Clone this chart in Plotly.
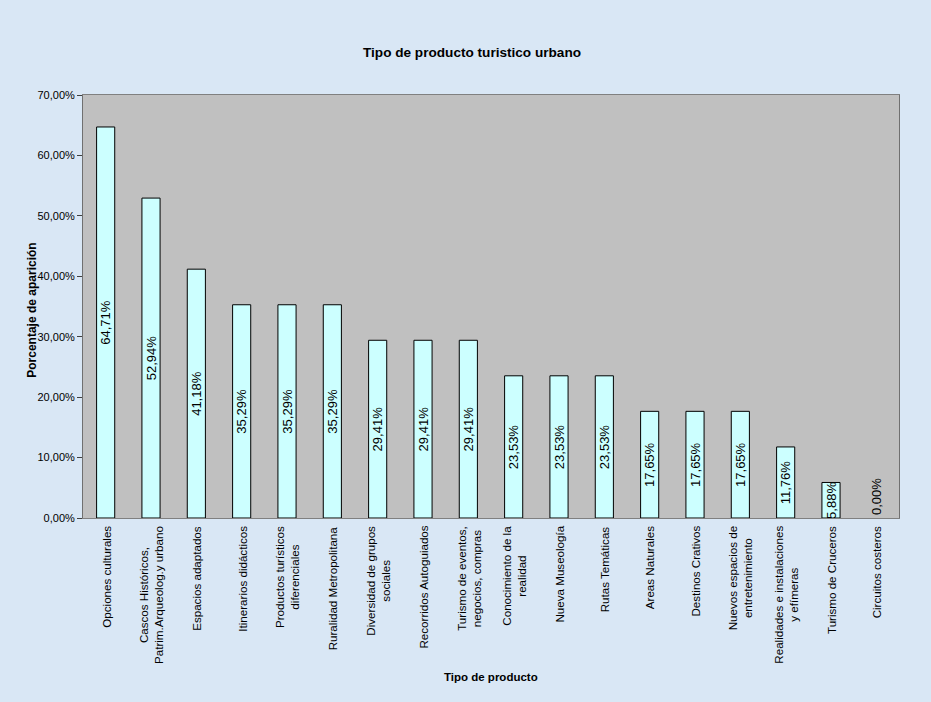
import plotly.graph_objects as go

categories = [
    "Opciones culturales",
    "Cascos Históricos,<br>Patrim.Arqueolog.y urbano",
    "Espacios adaptados",
    "Itinerarios didácticos",
    "Productos turísticos<br>diferenciales",
    "Ruralidad Metropolitana",
    "Diversidad de grupos<br>sociales",
    "Recorridos Autoguiados",
    "Turismo de eventos,<br>negocios, compras",
    "Conocimiento de la<br>realidad",
    "Nueva Museología",
    "Rutas Temáticas",
    "Areas Naturales",
    "Destinos Crativos",
    "Nuevos espacios de<br>entretenimiento",
    "Realidades e instalaciones<br>y efímeras",
    "Turismo de Cruceros",
    "Circuitos costeros",
]
values = [0.6471, 0.5294, 0.4118, 0.3529, 0.3529, 0.3529, 0.2941, 0.2941, 0.2941,
          0.2353, 0.2353, 0.2353, 0.1765, 0.1765, 0.1765, 0.1176, 0.0588, 0.0]
y_ticks = [0.0, 0.1, 0.2, 0.3, 0.4, 0.5, 0.6, 0.7]

FONT = "Arial, Liberation Sans, sans-serif"
xs = list(range(len(categories)))

textpos = ["outside" if v == 0 else "inside" for v in values]
line_widths = [0 if v == 0 else 1 for v in values]

fig = go.Figure()
fig.add_trace(go.Bar(
    x=xs, y=values,
    marker=dict(color="#ccffff", line=dict(color="#000000", width=line_widths)),
    width=0.4,
    texttemplate="%{y:.2%}",
    textposition=textpos,
    textangle=-90,
    insidetextanchor="middle",
    constraintext="none",
    cliponaxis=False,
    insidetextfont=dict(family=FONT, size=13, color="#000000"),
    outsidetextfont=dict(family=FONT, size=13, color="#000000"),
    hoverinfo="skip",
))

annotations = []
for i, c in enumerate(categories):
    annotations.append(dict(
        x=i, xref="x", y=0, yref="paper", yanchor="top", xanchor="center",
        yshift=-6, text=c, textangle=-90, align="center", showarrow=False,
        font=dict(family=FONT, size=11.6, color="#000000"),
    ))
annotations.append(dict(
    x=0.5, xref="paper", y=-0.377, yref="paper", text="<b>Tipo de producto</b>",
    showarrow=False, xanchor="center", yanchor="middle",
    font=dict(family=FONT, size=11.5, color="#000000"),
))
annotations.append(dict(
    x=-0.0625, xref="paper", y=0.49, yref="paper", text="<b>Porcentaje de aparición</b>",
    showarrow=False, textangle=-90, xanchor="center", yanchor="middle",
    font=dict(family=FONT, size=12, color="#000000"),
))

fig.update_layout(
    width=931, height=702,
    margin=dict(l=83, r=32, t=95, b=184),
    paper_bgcolor="#d9e7f5",
    plot_bgcolor="#c0c0c0",
    separators=",.",
    showlegend=False,
    title=dict(text="<b>Tipo de producto turistico urbano</b>",
               x=0.507, xref="container", xanchor="center",
               y=1 - 52 / 702, yref="container", yanchor="middle",
               font=dict(family=FONT, size=13.6, color="#000000")),
    font=dict(family=FONT, size=11, color="#000000"),
    annotations=annotations,
    bargap=0.6,
)
fig.update_xaxes(
    range=[-0.5, len(categories) - 0.5],
    showticklabels=False, showgrid=False, zeroline=False,
    showline=True, linecolor="#808080", linewidth=1, mirror=True,
    ticks="",
)
fig.update_yaxes(
    range=[0, 0.7], tickvals=y_ticks, tickformat=".2%",
    showgrid=False, zeroline=False,
    showline=True, linecolor="#707070", linewidth=1, mirror=True,
    ticks="outside", ticklen=5, tickcolor="#404040",
    tickfont=dict(family=FONT, size=11, color="#000000"),
)

fig.write_html("out.html", config={"displayModeBar": False},
               post_script="document.body.style.margin='0';")
